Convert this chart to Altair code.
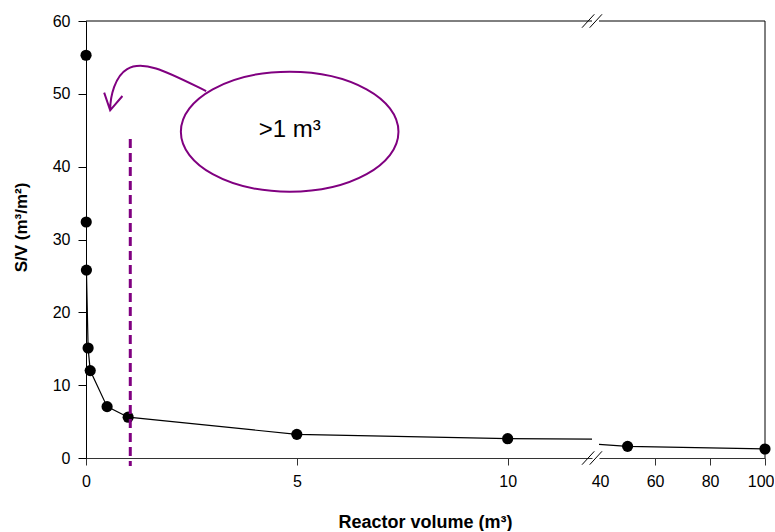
import altair as alt
import pandas as pd

# ---------------- data ----------------
volume = [0.001, 0.005, 0.01, 0.05, 0.1, 0.5, 1, 5, 10, 50, 100]
sv = [55.3, 32.4, 25.8, 15.1, 12.0, 7.05, 5.6, 3.25, 2.65, 1.6, 1.24]

left_ticks = [0, 5, 10]
right_ticks = [40, 60, 80, 100]
y_ticks = [0, 10, 20, 30, 40, 50, 60]

LEFT_DOMAIN = [0, 12]
RIGHT_DOMAIN = [39.6, 100]
Y_DOMAIN = [0, 60]

threshold_x = [1.05]
threshold_top = [43.8]
threshold_bottom = [-1.1]

bubble_label = ">1 m³"
bubble_x = [4.83]
bubble_y = [44.8]
arrow_x = [1.64]
arrow_y = [50.8]

x_title = "Reactor volume (m³)"
y_title = "S/V (m³/m²)"

# ---------------- styles ----------------
FONT = "Liberation Sans"
PURPLE = "#800080"
ELLIPSE = ("M 1 0 C 1 0.3046 0.5523 0.5515 0 0.5515 C -0.5523 0.5515 -1 0.3046 -1 0 "
           "C -1 -0.3046 -0.5523 -0.5515 0 -0.5515 C 0.5523 -0.5515 1 -0.3046 1 0 Z")
ARROW = ("M 0.927 0.055 C 0.255 -0.273 -0.2 -0.527 -0.509 -0.345 "
         "C -0.727 -0.218 -0.818 0.145 -0.818 0.405 "
         "M -0.927 0.085 L -0.818 0.405 L -0.595 0.145")
SLASH = "M -1 0.67 L 0.23 -0.67 M -0.23 0.67 L 1 -0.67"

df = pd.DataFrame({"volume": volume, "sv": sv})
thr_df = pd.DataFrame({"x": threshold_x, "top": threshold_top, "bottom": threshold_bottom})
bub_df = pd.DataFrame({"x": bubble_x, "y": bubble_y, "t": [bubble_label]})
arr_df = pd.DataFrame({"x": arrow_x, "y": arrow_y})

XL = alt.Scale(domain=LEFT_DOMAIN, nice=False, zero=False)
XR = alt.Scale(domain=RIGHT_DOMAIN, nice=False, zero=False)
YS = alt.Scale(domain=Y_DOMAIN, nice=False, zero=False)

W_LEFT, W_RIGHT, H = 506, 166, 437

y_axis = alt.Axis(values=y_ticks, tickSize=8, labelFontSize=16, labelPadding=8, labelFlush=False,
                  title=y_title, titleFontSize=17, titleFontWeight="bold", titlePadding=22,
                  titleY=206,
                  grid=False, domainColor="black", tickColor="black", labelColor="black",
                  titleColor="black", labelFont=FONT, titleFont=FONT)

x_axis_left = alt.Axis(values=left_ticks, tickSize=7, labelFontSize=16, labelPadding=8,
                       labelFlush=False,
                       title=x_title, titleFontSize=18, titleFontWeight="bold",
                       titleX=339, titleY=69, titleBaseline="alphabetic", titleAlign="center",
                       grid=False, domainColor="#333", tickColor="#333", labelColor="black",
                       titleColor="black", labelFont=FONT, titleFont=FONT)

x_axis_right = alt.Axis(values=right_ticks, tickSize=7, labelFontSize=16, labelPadding=8,
                        labelFlush=False,
                        labelAlign=alt.condition("datum.value == 100", alt.value("right"),
                                                 alt.value("center")),
                        labelOffset=alt.condition("datum.value == 100", alt.value(9),
                                                  alt.value(0)),
                        title=None, grid=False, domainColor="#333", tickColor="#333",
                        labelColor="black", labelFont=FONT,
                        tickOpacity=alt.condition("datum.value == 40", alt.value(0), alt.value(1)))

# ---------------- left panel ----------------
line_l = alt.Chart(df).mark_line(color="black", strokeWidth=1.2, clip=True).encode(
    x=alt.X("volume:Q", scale=XL, axis=x_axis_left),
    y=alt.Y("sv:Q", scale=YS, axis=y_axis),
)
pts_l = alt.Chart(df).transform_filter(f"datum.volume <= {LEFT_DOMAIN[1]}").mark_circle(
    size=125, color="black", opacity=1).encode(
    x=alt.X("volume:Q", scale=XL),
    y=alt.Y("sv:Q", scale=YS),
)
dash = alt.Chart(thr_df).mark_rule(color=PURPLE, strokeWidth=3, strokeDash=[9, 5]).encode(
    x=alt.X("x:Q", scale=XL),
    y=alt.Y("top:Q", scale=YS),
    y2="bottom:Q",
)
ellipse = alt.Chart(bub_df).mark_point(shape=ELLIPSE, size=47350, filled=False, color=PURPLE,
                                       strokeWidth=2, opacity=1).encode(
    x=alt.X("x:Q", scale=XL),
    y=alt.Y("y:Q", scale=YS),
)
bubble_text = alt.Chart(bub_df).mark_text(fontSize=24, font=FONT, color="black", dy=-2).encode(
    x=alt.X("x:Q", scale=XL),
    y=alt.Y("y:Q", scale=YS),
    text="t:N",
)
arrow = alt.Chart(arr_df).mark_point(shape=ARROW, size=12100, filled=False, color=PURPLE,
                                     strokeWidth=2, opacity=1).encode(
    x=alt.X("x:Q", scale=XL),
    y=alt.Y("y:Q", scale=YS),
)
frame_l_df = pd.DataFrame({"x": [LEFT_DOMAIN[0]], "x2": [LEFT_DOMAIN[1]], "y": [Y_DOMAIN[1]]})
top_l = alt.Chart(frame_l_df).mark_rule(color="black", strokeWidth=1).encode(
    x=alt.X("x:Q", scale=XL), x2="x2:Q",
    y=alt.Y("y:Q", scale=YS),
)
brk_df = pd.DataFrame({"x": [LEFT_DOMAIN[1], LEFT_DOMAIN[1]], "y": [Y_DOMAIN[1], Y_DOMAIN[0]]})
breaks = alt.Chart(brk_df).mark_point(shape=SLASH, size=400, filled=False, color="black",
                                      strokeWidth=1, opacity=1).encode(
    x=alt.X("x:Q", scale=XL),
    y=alt.Y("y:Q", scale=YS),
)

left = alt.layer(line_l, pts_l, dash, ellipse, bubble_text, arrow, top_l, breaks).properties(
    width=W_LEFT, height=H)

# ---------------- right panel ----------------
line_r = alt.Chart(df).mark_line(color="black", strokeWidth=1.2, clip=True).encode(
    x=alt.X("volume:Q", scale=XR, axis=x_axis_right),
    y=alt.Y("sv:Q", scale=YS, axis=None),
)
pts_r = alt.Chart(df).transform_filter(f"datum.volume >= {RIGHT_DOMAIN[0]}").mark_circle(
    size=125, color="black", opacity=1).encode(
    x=alt.X("volume:Q", scale=XR),
    y=alt.Y("sv:Q", scale=YS, axis=None),
)
frame_r_df = pd.DataFrame({"x": [RIGHT_DOMAIN[0]], "x2": [RIGHT_DOMAIN[1]],
                           "y": [Y_DOMAIN[1]], "y0": [Y_DOMAIN[0]]})
top_r = alt.Chart(frame_r_df).mark_rule(color="black", strokeWidth=1).encode(
    x=alt.X("x:Q", scale=XR), x2="x2:Q",
    y=alt.Y("y:Q", scale=YS, axis=None),
)
right_r = alt.Chart(frame_r_df).mark_rule(color="black", strokeWidth=1).encode(
    x=alt.X("x2:Q", scale=XR),
    y=alt.Y("y:Q", scale=YS, axis=None), y2="y0:Q",
)
right = alt.layer(line_r, pts_r, top_r, right_r).properties(width=W_RIGHT, height=H)

chart = alt.hconcat(left, right, spacing=7, bounds="flush").properties(
    padding={"left": 12, "top": 12, "right": 0, "bottom": 0}
).configure(font=FONT).configure_view(stroke=None)

chart.save("out.html", embed_options={"renderer": "svg", "actions": False})
